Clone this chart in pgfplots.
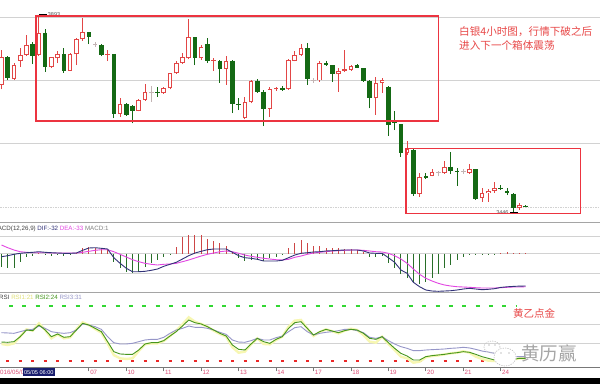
\documentclass[border=0pt]{standalone}
\usepackage{pgfplots}
\pgfplotsset{compat=1.18}
\usepackage{pgfplotstable}
\usepackage{fontspec}
\setmainfont{Liberation Sans}
\newfontfamily\cjk{Noto Sans CJK SC}
\definecolor{cred}{RGB}{226,70,70}
\definecolor{cgreen}{RGB}{20,105,20}
\definecolor{cgray}{RGB}{195,180,180}
\definecolor{boxred}{RGB}{236,52,64}
\definecolor{txtred}{RGB}{232,72,72}
\definecolor{gridc}{RGB}{210,210,210}
\definecolor{sepc}{RGB}{165,165,165}
\definecolor{axgray}{RGB}{120,120,120}
\definecolor{difc}{RGB}{50,50,120}
\definecolor{deac}{RGB}{226,70,226}
\definecolor{hred}{RGB}{205,70,70}
\definecolor{hgreen}{RGB}{40,110,40}
\definecolor{rsiy}{RGB}{247,247,178}
\definecolor{rsiyt}{RGB}{225,225,120}
\definecolor{rsig}{RGB}{70,150,30}
\definecolor{rsib}{RGB}{150,150,200}
\definecolor{dgreen}{RGB}{50,215,50}
\definecolor{dred}{RGB}{235,40,40}
\definecolor{labpink}{RGB}{220,80,120}
\definecolor{navy}{RGB}{25,30,110}

% ---------- candles (4h) ----------
\pgfplotstableread{
x o h l c
0 3735 3814 3725 3798
2 3748 3784 3746 3780
3 3790 3818 3775 3803
4 3803 3848 3800 3825
6 3803 3893 3800 3853
8 3775 3798 3773 3797
9 3795 3812 3784 3804
11 3767 3807 3766 3804
12 3804 3840 3780 3838
13 3838 3886 3835 3855
19 3669 3705 3663 3692
22 3677 3703 3675 3701
23 3701 3737 3699 3718
26 3716 3730 3715 3727
27 3727 3763 3725 3761
28 3761 3788 3760 3784
29 3784 3807 3782 3799
30 3795 3883 3793 3844
32 3795 3825 3791 3821
36 3771 3800 3735 3790
39 3660 3708 3657 3696
40 3696 3746 3693 3744
43 3680 3730 3662 3725
46 3725 3793 3724 3791
47 3790 3812 3788 3803
48 3803 3828 3800 3818
51 3745 3789 3742 3785
54 3759 3773 3720 3767
56 3769 3780 3767 3778
60 3705 3753 3667 3739
61 3739 3751 3717 3745
65 3580 3609 3577 3590
67 3489 3535 3481 3526
69 3529 3544 3528 3539
71 3535 3564 3534 3550
75 3535 3556 3534 3544
77 3479 3501 3471 3490
78 3490 3500 3471 3496
79 3495 3516 3491 3501
83 3456 3467 3452 3464
}\up
\pgfplotstableread{
x o h l c
17 3804 3814 3789 3806
34 3789 3795 3767 3791
44 3725 3730 3722 3727
55 3767 3814 3764 3771
}\upsmall
\pgfplotstableread{
x o h l c
1 3798 3800 3746 3750
5 3827 3833 3782 3801
7 3853 3861 3765 3776
10 3804 3818 3763 3767
14 3854 3855 3827 3844
16 3825 3827 3800 3803
18 3805 3806 3660 3669
20 3691 3693 3665 3667
21 3688 3690 3648 3677
25 3719 3730 3708 3716
31 3843 3844 3780 3795
33 3827 3840 3784 3789
35 3790 3791 3740 3771
37 3790 3791 3671 3692
38 3692 3705 3678 3689
41 3744 3748 3717 3720
42 3720 3724 3642 3680
45 3727 3733 3722 3724
49 3818 3830 3735 3748
52 3784 3788 3778 3779
53 3779 3780 3742 3760
57 3779 3782 3773 3774
58 3773 3774 3742 3744
59 3744 3746 3682 3705
62 3731 3732 3620 3644
63 3652 3675 3633 3648
64 3646 3647 3572 3580
66 3588 3589 3484 3489
68 3529 3535 3522 3524
72 3550 3584 3533 3540
73 3541 3547 3507 3538
76 3544 3545 3475 3477
80 3503 3509 3498 3500
81 3495 3503 3486 3490
82 3489 3490 3446 3456
84 3462 3464 3458 3459
}\down
\pgfplotstableread{
x o h l c
15 3828 3833 3821 3826
24 3717 3733 3697 3719
50 3747 3750 3739 3745
70 3537 3541 3528 3539
74 3538 3544 3534 3540
}\doji

% ---------- MACD ----------
\pgfplotstableread{
x dif dea
0 -3.2 8.5
1 -2.2 5.8
2 -0.8 3.5
3 0.2 1.8
4 0.8 1.2
5 1.2 0.8
6 1.8 0.8
7 1.2 0.8
8 0.8 0.5
9 0.5 0.5
10 0.2 0.5
11 0.2 0.5
12 0.5 0.5
13 3.2 1.2
14 5.5 2.2
15 5.8 3.2
16 5.2 3.8
17 4.5 3.8
18 -4.2 1.8
19 -9.8 -0.8
20 -14.8 -3.5
21 -18.2 -6.2
22 -18.2 -8.2
23 -17.8 -9.8
24 -16.8 -10.8
25 -15.5 -11.5
26 -12.8 -10.8
27 -10.8 -10.5
28 -8.8 -9.8
29 -5.5 -8.2
30 -2.2 -6.5
31 0.5 -4.5
32 2.2 -2.5
33 3.8 -0.8
34 4.5 0.5
35 4.5 1.8
36 4.5 2.5
37 1.2 1.8
38 -2.2 0.2
39 -4.2 -1.5
40 -4.8 -2.8
41 -5.8 -3.8
42 -7.5 -4.8
43 -7.5 -5.5
44 -7.5 -6.2
45 -6.8 -6.5
46 -4.2 -5.8
47 -1.5 -3.8
48 0.2 -2.5
49 0.8 -0.8
50 1.5 0.5
51 1.8 1.2
52 2.5 1.8
53 2.8 2.5
54 3.2 2.8
55 3.5 3.2
56 3.5 3.5
57 3.5 3.5
58 2.5 3.2
59 0.5 2.5
60 0.2 1.8
61 0.2 1.5
62 -4.2 0.2
63 -8.8 -2.2
64 -16.5 -5.5
65 -19.8 -9.8
66 -28.8 -15.5
67 -33.2 -20.8
68 -36.5 -24.8
69 -37.5 -27.5
70 -37.8 -29.8
71 -37.5 -31.5
72 -37.2 -32.5
73 -36.5 -33.2
74 -35.5 -33.5
75 -34.8 -33.8
76 -35.5 -34.2
77 -36.2 -34.5
78 -35.8 -34.5
79 -35.2 -34.5
80 -33.9 -34.2
81 -33.3 -33.8
82 -32.9 -33.5
83 -32.6 -33.5
84 -32.5 -33.2
}\macd
\pgfplotstableread{
x m
6 0.5
12 0.8
13 5.8
14 6.8
15 5.8
16 5.2
17 3.5
28 6.8
29 16.8
30 18.5
31 18.5
32 18.5
33 14.5
34 12.5
35 10.2
36 7.8
37 1.8
46 5.2
47 10.2
48 13.5
49 10.2
50 7.8
51 7.8
52 5.8
53 5.2
54 5.2
55 4.5
56 4.5
57 3.8
58 1.8
80 0.5
81 1.2
82 0.8
83 1.0
84 0.8
}\mpos
\pgfplotstableread{
x m
0 -13.2
1 -14.2
2 -14.2
3 -8.2
4 -3.2
5 -2.2
7 -1.5
8 -2.2
9 -1.5
10 -2.2
11 -1.5
18 -8.2
19 -14.2
20 -18.8
21 -19.8
22 -18.2
23 -13.2
24 -9.8
25 -6.5
26 -3.2
27 -1.2
38 -4.8
39 -7.5
40 -6.5
41 -6.5
42 -7.5
43 -4.8
44 -3.2
45 -1.2
59 -3.2
60 -3.2
61 -2.2
62 -9.8
63 -14.8
64 -20.8
65 -24.8
66 -28.2
67 -30.8
68 -28.2
69 -24.8
70 -20.8
71 -14.8
72 -11.5
73 -6.5
74 -3.2
75 -1.2
76 -1.2
77 -1.2
78 -0.6
79 -0.5
}\mneg

% ---------- RSI ----------
\pgfplotstableread{
x r1 r2 r3
0 39.0 41.1 51.2
1 37.9 40.8 50.9
2 39.7 41.5 50.5
3 46.9 46.9 52.3
4 54.8 54.1 54.1
5 53.4 53.4 54.8
6 61.3 59.5 58.4
7 54.1 54.1 55.9
8 45.1 46.9 52.3
9 49.4 49.8 51.2
10 45.1 46.2 50.5
11 46.2 46.9 51.2
12 54.8 54.1 54.1
13 62.4 61.3 60.6
14 59.5 59.5 59.5
15 55.2 55.9 57.7
16 51.2 52.3 54.8
17 39.7 41.5 46.9
18 27.0 30.7 40.4
19 23.5 28.2 39.0
20 22.8 27.8 39.0
21 23.5 27.8 39.7
22 31.4 32.5 41.5
23 38.6 39.0 43.3
24 39.7 40.4 44.0
25 39.7 40.4 44.0
26 42.2 42.6 46.2
27 47.6 47.6 50.5
28 53.4 52.3 54.1
29 60.2 58.4 55.9
30 67.8 64.9 58.4
31 63.1 62.0 57.0
32 60.6 60.6 57.0
33 57.7 57.7 55.9
34 53.4 54.1 54.1
35 49.8 50.5 51.6
36 46.9 47.6 49.4
37 35.4 37.9 43.3
38 29.6 33.2 41.1
39 30.7 32.5 40.8
40 38.6 39.0 42.6
41 45.1 45.1 45.1
42 39.0 41.5 43.3
43 38.6 39.7 43.3
44 43.3 44.0 45.8
45 46.9 46.9 47.6
46 57.7 55.9 52.3
47 64.2 62.0 56.6
48 64.9 63.1 57.7
49 55.9 55.9 52.3
50 47.6 48.7 48.7
51 51.9 52.3 50.5
52 54.8 54.8 51.6
53 52.7 53.0 52.3
54 50.5 51.2 53.4
55 53.4 53.4 54.8
56 55.5 54.8 54.8
57 54.1 54.1 53.4
58 48.7 50.5 51.2
59 41.5 45.1 46.2
60 40.4 44.0 45.1
61 46.9 46.9 46.9
62 39.0 40.4 42.6
63 32.5 34.3 39.0
64 25.3 28.9 36.1
65 23.5 26.0 34.3
66 18.8 21.7 31.8
67 19.9 21.7 31.8
68 24.6 25.3 32.5
69 26.0 26.4 32.9
70 26.7 27.1 33.2
71 27.8 27.8 33.6
72 28.9 28.9 34.3
73 29.6 29.6 34.7
74 31.1 30.7 35.4
75 29.6 30.0 34.7
76 25.3 27.8 33.2
77 22.8 25.3 31.4
78 21.0 23.5 30.3
79 20.6 21.7 28.9
80 20.3 21.0 27.1
81 21.0 21.7 26.4
82 22.1 22.4 25.3
83 23.5 23.5 25.3
84 23.5 23.5 25.3
}\rsi

\pgfplotsset{panel/.style={scale only axis, width=600pt, xmin=-0.24, xmax=95.91,
  axis line style={draw=none}, xtick=\empty, ytick=\empty, anchor=north west}}

\begin{document}
\begin{tikzpicture}
\fill[white] (0,0) rectangle (600pt,-384pt);
\path[use as bounding box] (0,0) rectangle (600pt,-384pt);
% grid lines
\foreach \yy in {17,80,143,236,253.5,273,324,343}
  \draw[gridc, line width=0.8pt] (0,-\yy pt) -- (600pt,-\yy pt);
\draw[gridc, line width=0.8pt, dash pattern=on 1.5pt off 1pt] (0,-207pt) -- (600pt,-207pt);
\draw[sepc, line width=0.9pt] (0,-222pt) -- (600pt,-222pt);
\draw[sepc, line width=0.9pt] (0,-292pt) -- (600pt,-292pt);
\draw[axgray, line width=0.9pt] (0,-367.3pt) -- (600pt,-367.3pt);
% RSI level lines
\draw[dgreen, line width=2.6pt, dash pattern=on 4pt off 9.33pt] (9pt,-306pt) -- (517pt,-306pt);
\draw[dred, line width=1.8pt, dash pattern=on 3pt off 9.5pt] (6pt,-361.3pt) -- (517pt,-361.3pt);

% ---------------- main candle panel ----------------
\begin{axis}[panel, at={(0pt,0pt)}, height=222pt, ymin=3425, ymax=3927]
\addplot[cgray, line width=0.9pt, quiver={u=0,v=\thisrow{h}-\thisrow{l}}] table[x=x,y=l]{\doji};
\addplot[cgray, line width=4.6pt, quiver={u=0,v=\thisrow{c}-\thisrow{o}}] table[x=x,y=o]{\doji};
\addplot[cred, line width=0.9pt, quiver={u=0,v=\thisrow{h}-\thisrow{l}}] table[x=x,y=l]{\up};
\addplot[cred, line width=4.6pt, quiver={u=0,v=\thisrow{c}-\thisrow{o}}] table[x=x,y=o]{\up};
\addplot[white, line width=2.7pt, quiver={u=0,v=\thisrow{c}-\thisrow{o}-4.4}] table[x=x,y expr=\thisrow{o}+2.2]{\up};
\addplot[cred, line width=0.9pt, quiver={u=0,v=\thisrow{h}-\thisrow{l}}] table[x=x,y=l]{\upsmall};
\addplot[cred, line width=4.6pt, quiver={u=0,v=\thisrow{c}-\thisrow{o}}] table[x=x,y=o]{\upsmall};
\addplot[cgreen, line width=0.9pt, quiver={u=0,v=\thisrow{h}-\thisrow{l}}] table[x=x,y=l]{\down};
\addplot[cgreen, line width=4.6pt, quiver={u=0,v=\thisrow{c}-\thisrow{o}}] table[x=x,y=o]{\down};
% high / low markers
\draw[black, line width=1.2pt] (axis cs:6,3893) -- ++(8pt,0pt)
  node[anchor=west, inner sep=0.4pt, text=black!70, font=\fontsize{5.5}{6}\selectfont]{3893};
\draw[black, line width=1.2pt] (axis cs:82,3446) ++(-3pt,0pt) -- ++(8pt,0pt);
\node[anchor=east, inner sep=0pt, text=black!70, font=\fontsize{5.5}{6}\selectfont]
  at ([xshift=-4.5pt]axis cs:82,3446) {3446};
\end{axis}

% ---------------- MACD panel ----------------
\begin{axis}[panel, at={(0pt,-222pt)}, height=70pt, ymin=-38.5, ymax=31.5]
\addplot[hred, line width=0.9pt, quiver={u=0,v=\thisrow{m}}] table[x=x,y expr=0]{\mpos};
\addplot[hgreen, line width=0.9pt, quiver={u=0,v=\thisrow{m}}] table[x=x,y expr=0]{\mneg};
\addplot[deac, line width=0.9pt] table[x=x,y=dea]{\macd};
\addplot[difc, line width=0.9pt] table[x=x,y=dif]{\macd};
\end{axis}

% ---------------- RSI panel ----------------
\begin{axis}[panel, at={(0pt,-292pt)}, height=75.3pt, ymin=13.8, ymax=95.14,
  xtick={14,20,26,32,38,44,50,56,62,68,74,80},
  xticklabels={07,10,11,12,13,14,17,18,19,20,21,24},
  xtick pos=left, tick align=outside, major tick length=4pt,
  xtick style={draw=axgray, line width=0.8pt},
  xticklabel style={font=\fontsize{6.2}{7}\selectfont, text=labpink, anchor=north west,
    inner sep=0pt, xshift=1.2pt, yshift=1pt}]
\addplot[rsiy, line width=2.4pt] table[x=x,y=r1]{\rsi};
\addplot[rsib, line width=0.9pt] table[x=x,y=r3]{\rsi};
\addplot[rsig, line width=0.9pt] table[x=x,y=r2]{\rsi};
\end{axis}

% ---------------- annotations ----------------
\draw[boxred, line width=1.5pt] (36pt,-16pt) rectangle (438.7pt,-121pt);
\draw[boxred, line width=1.5pt] (406pt,-148.3pt) rectangle (580.3pt,-213.3pt);
\node[anchor=west, inner sep=0pt, text=txtred, font=\cjk\fontsize{10.6}{12}\selectfont]
  at (459pt,-32pt) {白银4小时图，行情下破之后};
\node[anchor=west, inner sep=0pt, text=txtred, font=\cjk\fontsize{10.6}{12}\selectfont]
  at (459pt,-45pt) {进入下一个箱体震荡};
\node[anchor=west, inner sep=0pt, text=txtred, font=\cjk\fontsize{10.5}{12}\selectfont]
  at (513pt,-313pt) {黄乙点金};
% panel titles
\node[anchor=west, inner sep=0pt, font=\fontsize{6.2}{7}\selectfont] at (-7.5pt,-228.5pt)
  {\textcolor{black!75}{MACD(12,26,9)} \textcolor{difc}{DIF:-32} \textcolor{deac}{DEA:-33} \textcolor{black!50}{MACD:1}};
\node[anchor=west, inner sep=0pt, font=\fontsize{6.2}{7}\selectfont] at (-1pt,-297pt)
  {\textcolor{black!75}{RSI} \textcolor{rsiyt}{RSI1:21} \textcolor{rsig}{RSI2:24} \textcolor{rsib}{RSI3:31}};
% watermark
\draw[gray!45, line width=0.7pt, dash pattern=on 1.2pt off 1.2pt] (492pt,-347pt) ellipse (8pt and 6pt);
\fill[white] (505pt,-357pt) ellipse (11.5pt and 9.5pt);
\draw[gray!45, line width=0.7pt, dash pattern=on 1.2pt off 1.2pt] (505pt,-357pt) ellipse (11pt and 9pt);
\fill[gray!45] (501pt,-353pt) circle (0.9pt) (509pt,-353pt) circle (0.9pt)
  (489pt,-345pt) circle (0.8pt) (495pt,-345pt) circle (0.8pt);
\node[anchor=west, inner sep=0pt, text=gray!70, font=\cjk\fontsize{18.5}{20}\selectfont]
  at (521pt,-353pt) {黄历赢};
% time axis extras
\node[anchor=west, inner sep=0pt, text=labpink, font=\fontsize{6.2}{7}\selectfont]
  at (-3.5pt,-372pt) {2016/05/05};
\fill[navy] (22.7pt,-367.8pt) rectangle (55pt,-376pt);
\node[inner sep=0pt, text=white, font=\fontsize{5.6}{6}\selectfont] at (38.8pt,-372pt) {05/05 06:00};
\fill[black] (0,-377.7pt) rectangle (600pt,-384pt);
\end{tikzpicture}
\end{document}
